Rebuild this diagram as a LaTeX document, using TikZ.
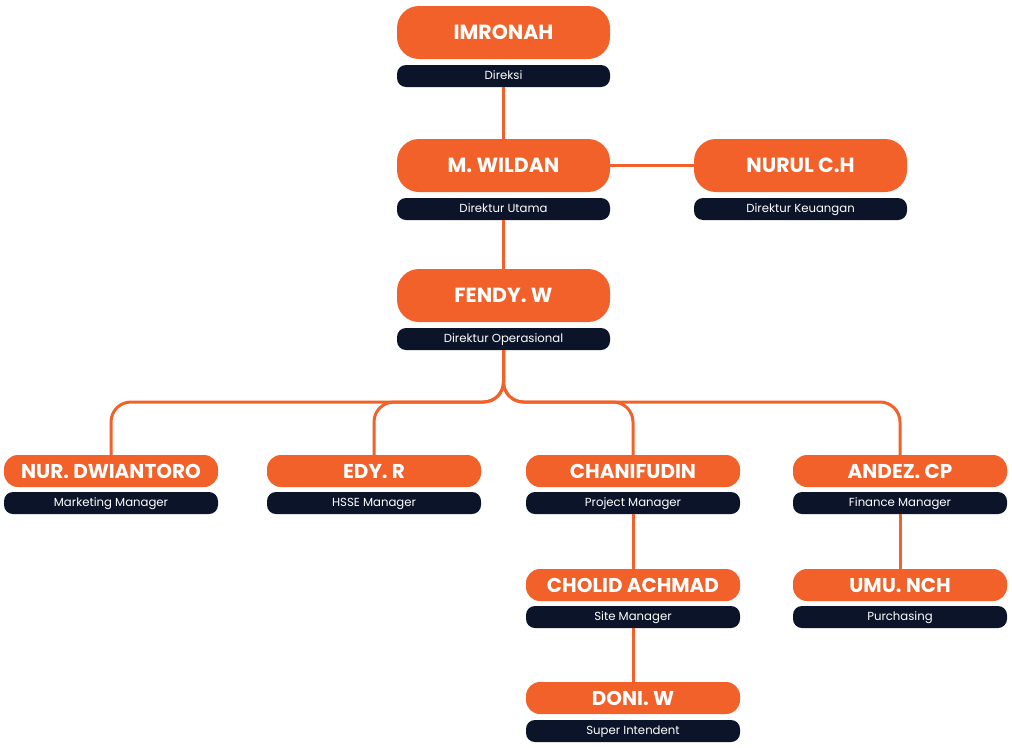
\documentclass[tikz,border=0pt]{standalone}
\usepackage{fontspec}
\setmainfont{Poppins}
\definecolor{org}{HTML}{F26129}
\definecolor{navy}{HTML}{0B1429}
\begin{document}
\begin{tikzpicture}[x=1pt,y=-1pt,
  bigbox/.style={fill=org,rounded corners=22pt,minimum width=213pt,minimum height=53pt,inner sep=0pt,text=white,font=\bfseries\fontsize{20.5}{23}\selectfont,text height=14.5pt,text depth=0pt},
  smallbox/.style={fill=org,rounded corners=14pt,minimum width=214pt,minimum height=32pt,inner sep=0pt,text=white,font=\bfseries\fontsize{20}{23}\selectfont,text height=14pt,text depth=0pt},
  lbl/.style={fill=navy,rounded corners=9pt,minimum width=213pt,minimum height=22pt,inner sep=0pt,text=white,font=\fontsize{11.7}{13}\selectfont,text height=6pt,text depth=0pt},
  link/.style={draw=org,line width=3pt},
  branch/.style={draw=org,line width=3pt,rounded corners=20pt}]
\useasboundingbox (0,0) rectangle (1012,747);
% top chain
\node[bigbox] (imronah) at (503.5,32.5) {IMRONAH};
\node[lbl] (imronahL) at (503.5,76) {Direksi};
\node[bigbox] (wildan) at (503.5,165.5) {M. WILDAN};
\node[lbl] (wildanL) at (503.5,209) {Direktur Utama};
\node[bigbox] (nurul) at (800.5,165.5) {NURUL C.H};
\node[lbl] (nurulL) at (800.5,209) {Direktur Keuangan};
\node[bigbox] (fendy) at (503.5,295.5) {FENDY. W};
\node[lbl] (fendyL) at (503.5,339) {Direktur Operasional};
% managers
\node[smallbox] (nur) at (111,471) {NUR. DWIANTORO};
\node[lbl,minimum width=214pt] (nurL) at (111,503) {Marketing Manager};
\node[smallbox] (edy) at (374,471) {EDY. R};
\node[lbl,minimum width=214pt] (edyL) at (374,503) {HSSE Manager};
\node[smallbox] (chani) at (633,471) {CHANIFUDIN};
\node[lbl,minimum width=214pt] (chaniL) at (633,503) {Project Manager};
\node[smallbox] (andez) at (900,471) {ANDEZ. CP};
\node[lbl,minimum width=214pt] (andezL) at (900,503) {Finance Manager};
\node[smallbox] (cholid) at (633,585) {CHOLID ACHMAD};
\node[lbl,minimum width=214pt] (cholidL) at (633,617) {Site Manager};
\node[smallbox] (doni) at (633,698) {DONI. W};
\node[lbl,minimum width=214pt] (doniL) at (633,731) {Super Intendent};
\node[smallbox] (umu) at (900,585) {UMU. NCH};
\node[lbl,minimum width=214pt] (umuL) at (900,617) {Purchasing};
% connectors
\path[link] (imronahL.south) -- (wildan.north);
\path[link] (wildan.east) -- (nurul.west);
\path[link] (wildanL.south) -- (fendy.north);
\coordinate (bus) at (503.5,402);
\path[branch] (fendyL.south) -- (bus) -- (bus -| nur.north) -- (nur.north);
\path[branch] (fendyL.south) -- (bus) -- (bus -| edy.north) -- (edy.north);
\path[branch] (fendyL.south) -- (bus) -- (bus -| chani.north) -- (chani.north);
\path[branch] (fendyL.south) -- (bus) -- (bus -| andez.north) -- (andez.north);
\path[link] (chaniL.south) -- (cholid.north);
\path[link] (cholidL.south) -- (doni.north);
\path[link] (andezL.south) -- (umu.north);
\end{tikzpicture}
\end{document}
